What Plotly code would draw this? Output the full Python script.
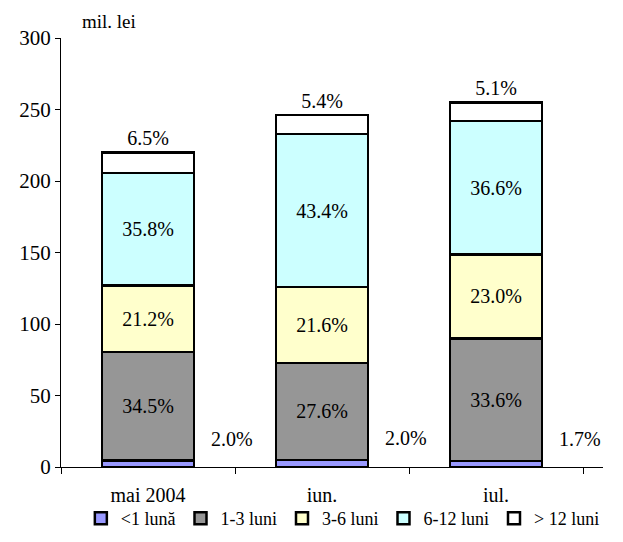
import plotly.graph_objects as go

# categorii si serii (mil. lei)
luni = ["mai 2004", "iun.", "iul."]
serii = ["<1 lună", "1-3 luni", "3-6 luni", "6-12 luni", "> 12 luni"]
sub_1 = [4.4, 4.9, 4.3]
l_1_3 = [75.9, 67.9, 85.7]
l_3_6 = [46.6, 53.1, 58.7]
l_6_12 = [78.8, 106.8, 93.3]
peste_12 = [14.3, 13.3, 13.0]

# etichete procentuale
pct_sub_1 = ["2.0%", "2.0%", "1.7%"]
pct_1_3 = ["34.5%", "27.6%", "33.6%"]
pct_3_6 = ["21.2%", "21.6%", "23.0%"]
pct_6_12 = ["35.8%", "43.4%", "36.6%"]
pct_12 = ["6.5%", "5.4%", "5.1%"]

CULORI = ["#9999FF", "#969696", "#FFFFCC", "#CCFFFF", "#FFFFFF"]
FONT = "Liberation Serif, Times New Roman, serif"

valori = [sub_1, l_1_3, l_3_6, l_6_12, peste_12]
etichete = [None, pct_1_3, pct_3_6, pct_6_12, pct_12]

fig = go.Figure()
for nume, v, et, col in zip(serii, valori, etichete, CULORI):
    kw = {}
    if et is not None:
        kw = dict(text=et,
                  textposition="outside" if nume == "> 12 luni" else "inside",
                  insidetextanchor="middle", textangle=0)
    fig.add_trace(go.Bar(
        x=luni, y=v, name=nume,
        marker=dict(color=col, line=dict(color="black", width=2.5)),
        textfont=dict(family=FONT, size=20, color="black"),
        cliponaxis=False, **kw,
    ))

# etichetele pentru <1 luna, in dreapta barelor
for x, y, t in zip(luni, sub_1, pct_sub_1):
    fig.add_annotation(x=x, y=y, text=t, showarrow=False, xshift=84, yshift=22,
                       font=dict(family=FONT, size=20, color="black"))

fig.add_annotation(x=0.089, y=1, xref="paper", yref="paper", text="mil. lei",
                   showarrow=False, xanchor="center", yanchor="bottom", yshift=4,
                   font=dict(family=FONT, size=19, color="black"))

fig.update_xaxes(showline=True, linecolor="black", linewidth=1,
                 ticks="outside", tickson="boundaries", ticklen=6,
                 tickcolor="black", ticklabelstandoff=10,
                 tickfont=dict(family=FONT, size=20, color="black"))
fig.update_yaxes(range=[0, 300], tickvals=list(range(0, 301, 50)),
                 showline=True, linecolor="black", linewidth=1,
                 ticks="outside", ticklen=5, tickcolor="black", showgrid=False,
                 zeroline=False,
                 tickfont=dict(family=FONT, size=21, color="black"))
# pagina are margine de 8px, deci figura e mai mica cu 16px
fig.update_layout(
    width=607, height=526, barmode="stack", bargap=0.47,
    plot_bgcolor="white", paper_bgcolor="white",
    margin=dict(l=53, r=12, t=30, b=67, autoexpand=False),
    showlegend=True,
    legend=dict(orientation="h", x=0.52, xanchor="center", y=-0.12,
                yanchor="middle", traceorder="normal", bgcolor="rgba(0,0,0,0)",
                font=dict(family=FONT, size=18, color="black"),
                itemwidth=30, tracegroupgap=0),
)
fig.write_html("out.html")
